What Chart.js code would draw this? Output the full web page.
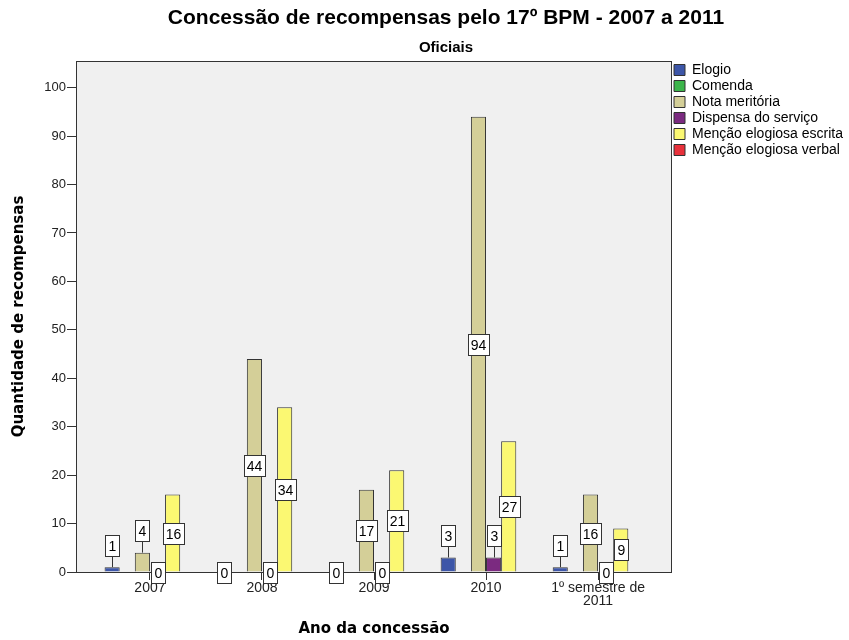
<!DOCTYPE html>
<html lang="pt-BR">
<head>
<meta charset="utf-8">
<title>Concessão de recompensas pelo 17º BPM</title>
<script src="https://cdn.jsdelivr.net/npm/chart.js@4.4.1/dist/chart.umd.min.js"></script>
<style>
  html, body { margin: 0; padding: 0; background: #fff; }
  #wrap { width: 849px; height: 640px; }
</style>
</head>
<body>
<div id="wrap"><canvas id="graficoRecompensas" width="849" height="640"></canvas></div>
<script>
// Dados por ano de concessão (oficiais)
const anos = ['2007', '2008', '2009', '2010', ['1º semestre de', '2011']];
const elogio = [1, 0, 0, 3, 1];
const comenda = [null, null, null, null, null];
const notaMeritoria = [4, 44, 17, 94, 16];
const dispensaServico = [0, 0, 0, 3, 0];
const mencaoEscrita = [16, 34, 21, 27, 9];
const mencaoVerbal = [null, null, null, null, null];
const ticksY = [0, 10, 20, 30, 40, 50, 60, 70, 80, 90, 100];

const series = [
    { nome: 'Elogio', valores: elogio, cor: '#3d56a8' },
    { nome: 'Comenda', valores: comenda, cor: '#3cb54b' },
    { nome: 'Nota meritória', valores: notaMeritoria, cor: '#d4cf98' },
    { nome: 'Dispensa do serviço', valores: dispensaServico, cor: '#7b2a80' },
    { nome: 'Menção elogiosa escrita', valores: mencaoEscrita, cor: '#fbf872' },
    { nome: 'Menção elogiosa verbal', valores: mencaoVerbal, cor: '#e8313b' }
];

const fonteArial = '"Liberation Sans", Arial, sans-serif';
const fonteEixo = '"DejaVu Sans", Verdana, sans-serif';

// Fundo cinza da área do gráfico
const fundo = {
    id: 'fundo',
    beforeDraw(chart) {
        const { ctx, chartArea: a } = chart;
        ctx.save();
        ctx.fillStyle = '#f0f0f0';
        ctx.fillRect(a.left, a.top, a.right - a.left, a.bottom - a.top);
        ctx.restore();
    }
};

// Moldura e rótulos de valor em caixas brancas
const rotulos = {
    id: 'rotulos',
    afterDatasetsDraw(chart) {
        const { ctx, chartArea: a } = chart;
        ctx.save();
        ctx.strokeStyle = '#333';
        ctx.lineWidth = 1;
        ctx.strokeRect(a.left + 0.5, a.top + 0.5, a.right - a.left - 1, a.bottom - a.top);

        ctx.font = '14px ' + fonteArial;
        ctx.textAlign = 'center';
        ctx.textBaseline = 'middle';
        chart.data.datasets.forEach((ds, i) => {
            const meta = chart.getDatasetMeta(i);
            meta.data.forEach((bar, j) => {
                const v = ds.data[j].y;
                if (v === null || v === undefined) return;
                const texto = String(v);
                const w = Math.max(14, ctx.measureText(texto).width + 5);
                const h = 21;
                const x = Math.round(bar.x);
                const alturaBarra = bar.base - bar.y;
                let cy;
                if (v === 0) {
                    cy = bar.base;
                } else if (alturaBarra >= h + 3) {
                    cy = (bar.y + bar.base) / 2;
                } else {
                    // barra baixa: caixa acima com linha guia
                    cy = bar.y - 22;
                    ctx.beginPath();
                    ctx.moveTo(x + 0.5, cy + h / 2);
                    ctx.lineTo(x + 0.5, bar.y);
                    ctx.stroke();
                }
                const bx = Math.round(x - w / 2) + 0.5;
                const by = Math.round(cy - h / 2) + 0.5;
                ctx.fillStyle = '#fff';
                ctx.fillRect(bx, by, Math.round(w), h);
                ctx.strokeRect(bx, by, Math.round(w), h);
                ctx.fillStyle = '#000';
                ctx.fillText(texto, x + 0.5, by + h / 2 + 1);
            });
        });
        ctx.restore();
    }
};

// Título e subtítulo
const titulos = {
    id: 'titulos',
    afterDraw(chart) {
        const ctx = chart.ctx;
        ctx.save();
        ctx.fillStyle = '#000';
        ctx.textAlign = 'center';
        ctx.textBaseline = 'middle';
        ctx.font = 'bold 21px ' + fonteArial;
        ctx.fillText('Concessão de recompensas pelo 17º BPM - 2007 a 2011', 446, 18);
        ctx.font = 'bold 15px ' + fonteArial;
        ctx.fillText('Oficiais', 446, 48);
        ctx.restore();
    }
};

new Chart(document.getElementById('graficoRecompensas'), {
    type: 'bar',
    data: {
        datasets: series.map(s => ({
            label: s.nome,
            data: s.valores.map((v, i) => ({ x: i, y: v })),
            backgroundColor: s.cor,
            borderColor: '#333',
            borderWidth: 1
        }))
    },
    options: {
        responsive: false,
        animation: false,
        devicePixelRatio: 1,
        datasets: {
            bar: { categoryPercentage: 0.81, barPercentage: 1 }
        },
        layout: { padding: { top: 61, left: 0, right: 0, bottom: 0 } },
        plugins: {
            tooltip: { enabled: false },
            legend: {
                position: 'right',
                align: 'start',
                maxWidth: 177,
                labels: {
                    boxWidth: 11,
                    boxHeight: 11,
                    padding: 2,
                    color: '#000',
                    font: { family: fonteArial, size: 14 }
                }
            }
        },
        scales: {
            x: {
                type: 'linear',
                offset: false,
                min: -0.66,
                max: 4.66,
                afterBuildTicks(scale) {
                    scale.ticks = anos.map((_, i) => ({ value: i }));
                },
                afterFit(scale) { scale.height = 68; },
                border: { display: false },
                grid: {
                    offset: false,
                    drawOnChartArea: false,
                    tickLength: 8,
                    tickColor: '#333'
                },
                ticks: {
                    autoSkip: false,
                    maxRotation: 0,
                    padding: 1,
                    color: '#222',
                    font: { family: fonteArial, size: 14, lineHeight: 0.95 },
                    callback: v => anos[v]
                },
                title: {
                    display: true,
                    text: 'Ano da concessão',
                    color: '#000',
                    font: { family: fonteEixo, size: 15, weight: 'bold' },
                    padding: { top: 0, bottom: 2 }
                }
            },
            y: {
                min: 0,
                max: 105.5,
                afterBuildTicks(scale) {
                    scale.ticks = ticksY.map(v => ({ value: v }));
                },
                afterFit(scale) { scale.width = 76; },
                border: { display: false },
                grid: {
                    drawOnChartArea: false,
                    tickLength: 9,
                    tickColor: '#333'
                },
                ticks: {
                    padding: 1,
                    color: '#222',
                    font: { family: fonteArial, size: 13 }
                },
                title: {
                    display: true,
                    text: 'Quantidade de recompensas',
                    color: '#000',
                    font: { family: fonteEixo, size: 15, weight: 'bold' },
                    padding: { top: 10, bottom: 0 }
                }
            }
        }
    },
    plugins: [fundo, rotulos, titulos]
});
</script>
</body>
</html>
